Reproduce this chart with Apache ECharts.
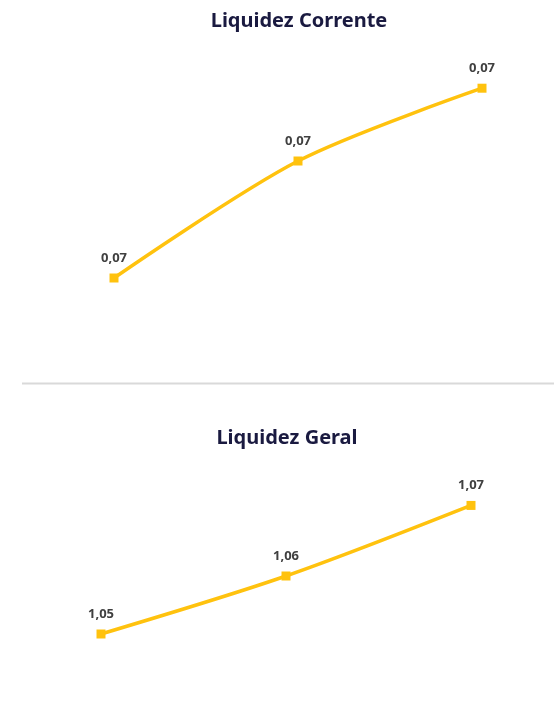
<!DOCTYPE html>
<html>
<head>
<meta charset="utf-8">
<script src="https://cdn.jsdelivr.net/npm/echarts@6/dist/echarts.min.js"></script>
<style>
html,body{margin:0;padding:0;background:#fff;}
#c{width:554px;height:711px;}
</style>
</head>
<body>
<div id="c"></div>
<script>
var categories = ['2021', '2022', '2023'];
var liquidezCorrente = [0.066, 0.0705, 0.0733];
var liquidezGeral = [1.052, 1.058, 1.0653];
var titleCorrente = 'Liquidez Corrente';
var titleGeral = 'Liquidez Geral';

var gold = '#FFC20E';
function fmt(p){ return p.value.toFixed(2).replace('.', ','); }

var chart = echarts.init(document.getElementById('c'));
function seriesFor(data, idx){
  return {
    type: 'line',
    xAxisIndex: idx, yAxisIndex: idx,
    data: data,
    smooth: 0.3,
    symbol: 'rect',
    symbolSize: 9,
    lineStyle: {color: gold, width: 3.5},
    itemStyle: {color: gold},
    label: {
      show: true, position: 'top', distance: 9,
      formatter: fmt,
      color: '#404040', fontSize: 13, fontWeight: 'bold',
      fontFamily: 'Noto Sans'
    },
    animation: false
  };
}
chart.setOption({
  animation: false,
  grid: [
    {left: 114, right: 72, top: 60, height: 300},
    {left: 101, right: 83, top: 450, height: 240}
  ],
  xAxis: [
    {gridIndex: 0, type: 'category', data: categories, boundaryGap: false, show: false},
    {gridIndex: 1, type: 'category', data: categories, boundaryGap: false, show: false}
  ],
  yAxis: [
    {gridIndex: 0, type: 'value', min: 0.062846, max: 0.074385, show: false},
    {gridIndex: 1, type: 'value', min: 1.046207, max: 1.071034, show: false}
  ],
  graphic: [
    {type: 'text', style: {text: titleCorrente, x: 299, y: 21, textAlign: 'center', textVerticalAlign: 'middle', fill: '#1a1a40', font: 'bold 20px "Noto Sans"'}},
    {type: 'text', style: {text: titleGeral, x: 287, y: 438, textAlign: 'center', textVerticalAlign: 'middle', fill: '#1a1a40', font: 'bold 20px "Noto Sans"'}},
    {type: 'line', shape: {x1: 22, y1: 383.5, x2: 554, y2: 383.5}, style: {stroke: '#d9d9d9', lineWidth: 2}}
  ],
  series: [seriesFor(liquidezCorrente, 0), seriesFor(liquidezGeral, 1)]
});
</script>
</body>
</html>
